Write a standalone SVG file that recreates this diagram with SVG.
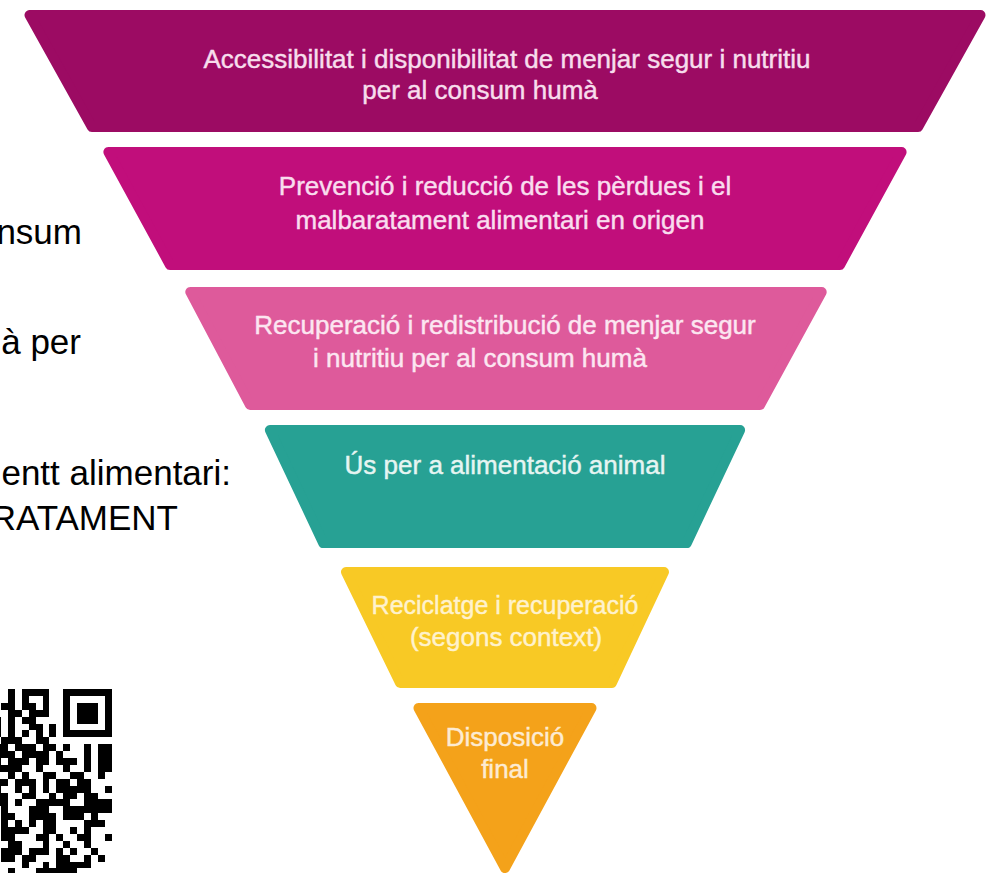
<svg xmlns="http://www.w3.org/2000/svg" width="998" height="873" viewBox="0 0 998 873">
<style>
.band{stroke-width:10;stroke-linejoin:round}
.lbl{font-family:"Liberation Sans",Arial,sans-serif;font-size:26px;text-anchor:middle;stroke-width:0.45}
.side{font-family:"Liberation Sans",Arial,sans-serif;font-size:35px;fill:#000;text-anchor:end}
</style>
<rect width="998" height="873" fill="#fff"/>
<g id="side-text">
<text class="side" x="82" y="244">nsum</text>
<text class="side" x="81" y="354">à per</text>
<text class="side" x="231" y="485">entt alimentari:</text>
<text class="side" x="178" y="530">RATAMENT</text>
</g>
<g id="qr">
<path transform="translate(-5.8,689) scale(6.9)" shape-rendering="crispEdges" fill="#000" d="
M2 0h1v1h-1z M4 0h4v1h-4z M10 0h7v1h-7z
M2 1h1v1h-1z M4 1h1v1h-1z M7 1h1v1h-1z M10 1h1v1h-1z M16 1h1v1h-1z
M1 2h2v1h-2z M4 2h2v1h-2z M7 2h1v1h-1z M10 2h1v1h-1z M12 2h3v1h-3z M16 2h1v1h-1z
M2 3h2v1h-2z M5 3h3v1h-3z M10 3h1v1h-1z M12 3h3v1h-3z M16 3h1v1h-1z
M0 4h1v1h-1z M2 4h1v1h-1z M4 4h2v1h-2z M10 4h1v1h-1z M12 4h3v1h-3z M16 4h1v1h-1z
M0 5h1v1h-1z M2 5h1v1h-1z M5 5h2v1h-2z M8 5h1v1h-1z M10 5h1v1h-1z M16 5h1v1h-1z
M0 6h1v1h-1z M2 6h1v1h-1z M4 6h1v1h-1z M6 6h1v1h-1z M8 6h1v1h-1z M10 6h7v1h-7z
M1 7h3v1h-3z M6 7h2v1h-2z
M0 8h2v1h-2z M3 8h3v1h-3z M7 8h2v1h-2z M10 8h1v1h-1z M13 8h1v1h-1z M15 8h2v1h-2z
M0 9h3v1h-3z M4 9h4v1h-4z M9 9h1v1h-1z M13 9h1v1h-1z M15 9h2v1h-2z
M0 10h1v1h-1z M2 10h3v1h-3z M6 10h2v1h-2z M9 10h3v1h-3z M13 10h1v1h-1z M15 10h2v1h-2z
M0 11h4v1h-4z M6 11h1v1h-1z M10 11h1v1h-1z M13 11h1v1h-1z M15 11h2v1h-2z
M2 12h1v1h-1z M4 12h1v1h-1z M7 12h2v1h-2z M11 12h2v1h-2z M15 12h1v1h-1z
M0 13h2v1h-2z M3 13h3v1h-3z M7 13h1v1h-1z M9 13h2v1h-2z M12 13h2v1h-2z
M0 14h1v1h-1z M3 14h1v1h-1z M5 14h1v1h-1z M7 14h1v1h-1z M9 14h5v1h-5z M16 14h1v1h-1z
M0 15h2v1h-2z M4 15h2v1h-2z M8 15h1v1h-1z M10 15h2v1h-2z M13 15h2v1h-2z
M0 16h2v1h-2z M3 16h1v1h-1z M6 16h5v1h-5z M13 16h4v1h-4z
M1 17h1v1h-1z M5 17h3v1h-3z M10 17h7v1h-7z
M1 18h2v1h-2z M5 18h4v1h-4z M10 18h3v1h-3z M14 18h1v1h-1z
M1 19h1v1h-1z M3 19h1v1h-1z M5 19h1v1h-1z M7 19h2v1h-2z M13 19h3v1h-3z
M1 20h4v1h-4z M7 20h2v1h-2z M11 20h1v1h-1z M13 20h1v1h-1z
M1 21h2v1h-2z M6 21h2v1h-2z M9 21h1v1h-1z M12 21h2v1h-2z M16 21h1v1h-1z
M2 22h2v1h-2z M7 22h1v1h-1z M10 22h1v1h-1z M13 22h1v1h-1z
M1 23h3v1h-3z M5 23h3v1h-3z M9 23h1v1h-1z M11 23h1v1h-1z M14 23h1v1h-1z
M1 24h2v1h-2z M4 24h2v1h-2z M9 24h2v1h-2z M13 24h1v1h-1z M15 24h1v1h-1z
M4 25h1v1h-1z M7 25h1v1h-1z M9 25h5v1h-5z
M2 26h1v1h-1z M6 26h6v1h-6z"/>
</g>
<g id="connectors"/>
<g id="level1">
<polygon class="band" fill="#9C0B63" stroke="#9C0B63" points="29.5,15 980.5,15 918.1,127 91.9,127"/>
<text class="lbl" fill="#F7DDEC" stroke="#F7DDEC" x="507" y="68">Accessibilitat i disponibilitat de menjar segur i nutritiu</text>
<text class="lbl" fill="#F7DDEC" stroke="#F7DDEC" x="480" y="99">per al consum humà</text>
</g>
<g id="level2">
<polygon class="band" fill="#C10E7B" stroke="#C10E7B" points="108.4,152 901.6,152 840,265 170,265"/>
<text class="lbl" fill="#F9DDEE" stroke="#F9DDEE" x="505" y="195">Prevenció i reducció de les pèrdues i el</text>
<text class="lbl" fill="#F9DDEE" stroke="#F9DDEE" x="500" y="229">malbaratament alimentari en origen</text>
</g>
<g id="level3">
<polygon class="band" fill="#DE5A9B" stroke="#DE5A9B" points="190.3,292 821.7,292 760,405 250,405"/>
<text class="lbl" fill="#FCE6F1" stroke="#FCE6F1" x="505" y="334">Recuperació i redistribució de menjar segur</text>
<text class="lbl" fill="#FCE6F1" stroke="#FCE6F1" x="480" y="367">i nutritiu per al consum humà</text>
</g>
<g id="level4">
<polygon class="band" fill="#27A194" stroke="#27A194" points="269.9,430 740.1,430 686.8,543 323.2,543"/>
<text class="lbl" fill="#E6F5F2" stroke="#E6F5F2" x="505" y="474">Ús per a alimentació animal</text>
</g>
<g id="level5">
<polygon class="band" fill="#F8C925" stroke="#F8C925" points="346,572 664,572 611.9,683 400.1,683"/>
<text class="lbl" fill="#FFF2CC" stroke="#FFF2CC" x="505" y="614" style="font-size:25px">Reciclatge i recuperació</text>
<text class="lbl" fill="#FFF2CC" stroke="#FFF2CC" x="506" y="646">(segons context)</text>
</g>
<g id="level6">
<polygon class="band" fill="#F4A21A" stroke="#F4A21A" points="418.5,708 591.5,708 505,868"/>
<text class="lbl" fill="#FDEBD2" stroke="#FDEBD2" x="505" y="746">Disposició</text>
<text class="lbl" fill="#FDEBD2" stroke="#FDEBD2" x="505" y="778">final</text>
</g>
</svg>
